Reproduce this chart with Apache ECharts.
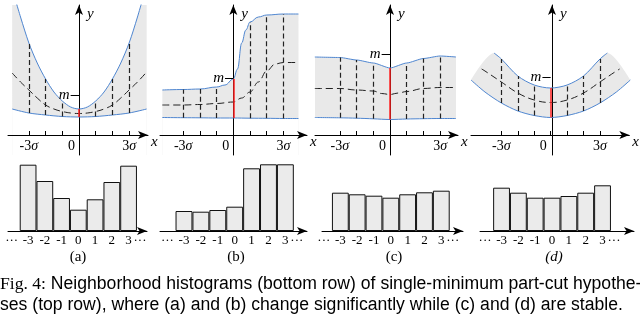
<!DOCTYPE html>
<html><head><meta charset="utf-8">
<script src="https://cdn.jsdelivr.net/npm/echarts@6/dist/echarts.min.js"></script>
<style>html,body{margin:0;padding:0;background:#fff}#c{width:640px;height:315px}</style>
</head><body><div id="c"></div>
<script>
// ---------------- data ----------------
const sigmaTicks = [-3, -2, -1, 0, 1, 2, 3];
const sigmaLabels = [-3, 0, 3];
const vertX = [-3, -2, -1, 0, 1, 2, 3];
const histCats = [-3, -2, -1, 0, 1, 2, 3];
const histDots = [-3.98, 3.68];   // positions of the "···" labels on the histogram axes

// (a)
const aUpper = [[-4,14.6],[-3.5,11.8],[-3,9.2],[-2.5,7.2],[-2,5.6],[-1.5,4.3],[-1,3.4],[-0.5,2.8],[0,2.6],[0.5,2.8],[1,3.4],[1.5,4.3],[2,5.6],[2.5,7.2],[3,9.2],[3.5,11.8],[4.05,15.0]];
const aLower = [[-4,2.6],[-3,2.2],[-2,2.0],[-1,1.85],[0,1.8],[1,1.85],[2,2.0],[3,2.2],[4.05,2.6]];
const aMid = [[-4,6.2],[-3.5,5.3],[-3,4.5],[-2.5,3.7],[-2,3.0],[-1.5,2.6],[-1,2.35],[-0.5,2.2],[0,2.15],[0.5,2.2],[1,2.35],[1.5,2.6],[2,3.0],[2.5,3.7],[3,4.5],[3.5,5.3],[4.05,6.3]];
const aM = 4.0;
// (b)
const bUpper = [[-4.25,4.5],[-3,4.55],[-2,4.6],[-1,4.8],[-0.5,5.0],[0,5.6],[0.25,6.6],[0.5,9.2],[0.75,10.5],[1,11.3],[1.5,11.8],[2,12.0],[3,12.1],[3.9,12.1]];
const bLower = [[-4.25,1.75],[-3,1.73],[-2,1.72],[-1,1.7],[0,1.7],[1,1.68],[2,1.67],[3,1.65],[3.9,1.65]];
const bMid = [[-4.25,3.0],[-3,3.0],[-2,3.05],[-1,3.15],[0,3.3],[0.5,3.7],[1,4.3],[1.5,5.3],[2,6.4],[2.5,7.1],[3,7.25],[3.9,7.25]];
const bM = 5.7;
// (c)
const cUpper = [[-4.5,7.8],[-3,7.75],[-2,7.5],[-1,7.2],[0,6.7],[1,7.2],[2,7.65],[3,7.9],[3.95,7.8]];
const cLower = [[-4.5,1.75],[-3,1.72],[-2,1.68],[-1,1.62],[0,1.55],[1,1.6],[2,1.63],[3,1.65],[3.95,1.65]];
const cMid = [[-4.5,4.65],[-3,4.65],[-2,4.5],[-1,4.4],[-0.5,4.15],[0,4.05],[0.5,4.2],[1,4.35],[2,4.65],[3,4.75],[3.95,4.75]];
const cM = 8.1;
// (d)
const dUpper = [[-3.45,8.2],[-3,7.6],[-2,5.9],[-1,5.0],[0,4.7],[1,5.0],[2,5.9],[3,7.6],[3.45,8.2]];
const dLower = [[-4.85,5.5],[-4,4.3],[-3,3.2],[-2,2.4],[-1,1.95],[0,1.75],[1,1.95],[2,2.4],[3,3.2],[4,4.3],[4.85,5.5]];
const dMid = [[-4.2,6.6],[-4,6.4],[-3,5.3],[-2,4.2],[-1,3.5],[0,3.25],[1,3.5],[2,4.2],[3,5.3],[4,6.4],[4.2,6.6]];
const dM = 5.8;

// histograms
const histA = [6.63, 5.0, 3.3, 2.13, 3.17, 4.9, 6.53];
const histB = [2.0, 1.93, 2.1, 2.43, 6.27, 6.67, 6.67];
const histC = [3.83, 3.67, 3.53, 3.33, 3.67, 3.87, 4.03];
const histD = [4.33, 3.83, 3.33, 3.33, 3.5, 3.83, 4.57];

const subLabels = ['(a)', '(b)', '(c)', '(d)'];
const captionLine1 = 'Neighborhood histograms (bottom row) of single-minimum part-cut hypothe-';
const captionLine2 = 'ses (top row), where (a) and (b) change significantly while (c) and (d) are stable.';

// ---------------- layout / style ----------------
const SERIF = '"Liberation Serif","DejaVu Serif",serif';
const SANS = '"Liberation Sans",Arial,sans-serif';
const FILL = '#e9e9e9', BLUE = '#4f86d0', RED = '#ff2020';
const TOP_Y_MIN = -2, TOP_Y_MAX = 13, TOP_TOP = 5, TOP_H = 150;
const M_TICK = 0.5; // length of the m tick, in sigma units

const topPanels = [
  {left: 8,   right: 148, min: -4.25, max: 4.13, up: aUpper, lo: aLower, mid: aMid, m: aM, fill: aUpper, smoothUp: 0.3, mono: undefined},
  {left: 160, right: 307, min: -4.39, max: 4.41, up: bUpper, lo: bLower, mid: bMid, m: bM, fill: bUpper, smoothUp: 0.4, mono: 'x'},
  {left: 315, right: 458, min: -4.49, max: 4.07, up: cUpper, lo: cLower, mid: cMid, m: cM, fill: cUpper, smoothUp: 0.2, mono: 'x'},
  {left: 471, right: 632, min: -4.85, max: 4.79, up: dUpper, lo: dLower, mid: dMid, m: dM,
   fill: [dLower[0]].concat(dUpper, [dLower[dLower.length - 1]]), smoothUp: 0.3, mono: undefined}
];
const botPanels = [
  {left: 8,   right: 147, min: -4.2,  max: 4.1,  vals: histA},
  {left: 160, right: 307, min: -4.42, max: 4.28, vals: histB},
  {left: 322, right: 463, min: -4.09, max: 4.29, vals: histC},
  {left: 480, right: 634, min: -4.28, max: 4.87, vals: histD}
];
const subX = [78, 236, 394, 554];

function valAt(arr, x) { const p = arr.find(q => q[0] === x); return p ? p[1] : null; }

const grid = [], xAxis = [], yAxis = [], series = [];

topPanels.forEach((p, i) => {
  const unitX = (p.right - p.left) / (p.max - p.min);
  const unitY = TOP_H / (TOP_Y_MAX - TOP_Y_MIN);
  grid.push({left: p.left, top: TOP_TOP, width: p.right - p.left, height: TOP_H});
  xAxis.push({
    type: 'value', gridIndex: i, min: p.min, max: p.max, position: 'bottom', offset: TOP_Y_MIN * unitY,
    axisLine: {onZero: false, symbol: ['none', 'arrow'], symbolSize: [6, 10], lineStyle: {color: '#000', width: 1}},
    axisTick: {show: true, inside: true, length: 4, customValues: sigmaTicks, lineStyle: {color: '#000'}},
    axisLabel: {
      customValues: sigmaLabels, margin: 4, color: '#000', showMinLabel: true, showMaxLabel: true,
      formatter: v => v === 0 ? '{z|0}' : '{n|' + (v < 0 ? '-3' : '3') + '}{s|σ}',
      rich: {
        z: {fontFamily: SERIF, fontSize: 14, color: '#000', padding: [0, 15, 0, 0]},
        n: {fontFamily: SERIF, fontSize: 14, color: '#000'},
        s: {fontFamily: SERIF, fontSize: 14, color: '#000', fontStyle: 'italic'}
      }
    },
    splitLine: {show: false},
    name: 'x', nameLocation: 'end', nameGap: 3,
    nameTextStyle: {fontFamily: SERIF, fontStyle: 'italic', fontSize: 15, color: '#000', align: 'left', verticalAlign: 'top'}
  });
  yAxis.push({
    type: 'value', gridIndex: i, min: TOP_Y_MIN, max: TOP_Y_MAX, position: 'left', offset: p.min * unitX,
    axisLine: {onZero: false, symbol: ['none', 'arrow'], symbolSize: [6, 10], lineStyle: {color: '#000', width: 1}},
    axisTick: {show: false},
    axisLabel: {show: false},
    splitLine: {show: false},
    name: 'y', nameLocation: 'end', nameGap: -2,
    nameTextStyle: {fontFamily: SERIF, fontStyle: 'italic', fontSize: 15, color: '#000', align: 'left', verticalAlign: 'top', padding: [0, 0, 0, 8]}
  });
  // gray band: area under upper boundary, then white area under lower boundary
  series.push({type: 'line', xAxisIndex: i, yAxisIndex: i, z: -3, silent: true, data: p.fill, smooth: p.smoothUp, smoothMonotone: p.mono,
    showSymbol: false, symbol: 'none', lineStyle: {width: 0, opacity: 0}, areaStyle: {color: FILL, opacity: 1, origin: 'start'}});
  series.push({type: 'line', xAxisIndex: i, yAxisIndex: i, z: -2, silent: true, data: p.lo, smooth: 0.3,
    showSymbol: false, symbol: 'none', lineStyle: {width: 0, opacity: 0}, areaStyle: {color: '#fff', opacity: 1, origin: 'start'}});
  // upper boundary + "m" tick on the y axis
  series.push({type: 'line', xAxisIndex: i, yAxisIndex: i, z: 3, silent: true, data: p.up, smooth: p.smoothUp, smoothMonotone: p.mono,
    showSymbol: false, symbol: 'none', lineStyle: {color: BLUE, width: 1},
    markLine: {silent: true, symbol: ['none', 'none'], animation: false,
      lineStyle: {color: '#000', type: 'solid', width: 1},
      label: {show: true, position: 'start', distance: 1, formatter: 'm', fontFamily: SERIF, fontStyle: 'italic', fontSize: 15, color: '#000'},
      data: [[{coord: [-M_TICK, p.m]}, {coord: [0, p.m]}]]}});
  // lower boundary + vertical dashed lines
  series.push({type: 'line', xAxisIndex: i, yAxisIndex: i, z: 3, silent: true, data: p.lo, smooth: 0.3,
    showSymbol: false, symbol: 'none', lineStyle: {color: BLUE, width: 1},
    markLine: {silent: true, symbol: ['none', 'none'], label: {show: false}, animation: false,
      data: vertX.map(x => [
        {coord: [x, valAt(p.lo, x)], lineStyle: x === 0 ? {color: RED, type: 'solid', width: 1.5} : {color: '#222', type: [5, 3], width: 1.2}},
        {coord: [x, valAt(p.up, x)]}
      ])}});
  // middle dashed curve
  series.push({type: 'line', xAxisIndex: i, yAxisIndex: i, z: 4, silent: true, data: p.mid, smooth: 0.4, smoothMonotone: p.mono,
    showSymbol: false, symbol: 'none', lineStyle: {color: '#222', width: 1, type: [7, 4]}});
});

botPanels.forEach((p, j) => {
  const i = j + 4;
  const unit = (p.right - p.left) / (p.max - p.min);
  grid.push({left: p.left, top: 160, width: p.right - p.left, height: 71});
  xAxis.push({
    type: 'value', gridIndex: i, min: p.min, max: p.max,
    axisLine: {onZero: true, symbol: ['none', 'arrow'], symbolSize: [6, 10], lineStyle: {color: '#000', width: 1}},
    axisTick: {show: false},
    axisLabel: {
      customValues: histCats.concat(histDots), margin: 3, color: '#000', fontFamily: SERIF, fontSize: 13,
      showMinLabel: true, showMaxLabel: true, hideOverlap: false,
      formatter: v => histDots.indexOf(v) >= 0 ? '···' : String(v)
    },
    splitLine: {show: false}
  });
  yAxis.push({type: 'value', gridIndex: i, min: 0, max: 7.1, show: false});
  series.push({type: 'bar', xAxisIndex: i, yAxisIndex: i, silent: true, barWidth: unit,
    data: histCats.map((c, k) => [c, p.vals[k]]),
    itemStyle: {color: '#ebebeb', borderColor: '#111', borderWidth: 1}});
});

const graphic = subLabels.map((t, k) => ({
  type: 'text', x: subX[k], y: 257,
  style: {text: t, align: 'center', verticalAlign: 'middle', fontFamily: SERIF, fontSize: 15, fontStyle: k === 3 ? 'italic' : 'normal', fill: '#000'}
}));
graphic.push({type: 'text', x: 0, y: 284, style: {
  text: '{f|Fig. 4:} ' + captionLine1, verticalAlign: 'middle', fontFamily: SANS, fontSize: 17.6, fill: '#000',
  rich: {f: {fontFamily: SERIF, fontSize: 17.6, fill: '#000'}}}});
graphic.push({type: 'text', x: 0, y: 305, style: {
  text: captionLine2, verticalAlign: 'middle', fontFamily: SANS, fontSize: 17.6, fill: '#000'}});

const chart = echarts.init(document.getElementById('c'));
chart.setOption({animation: false, grid, xAxis, yAxis, series, graphic});
</script></body></html>
